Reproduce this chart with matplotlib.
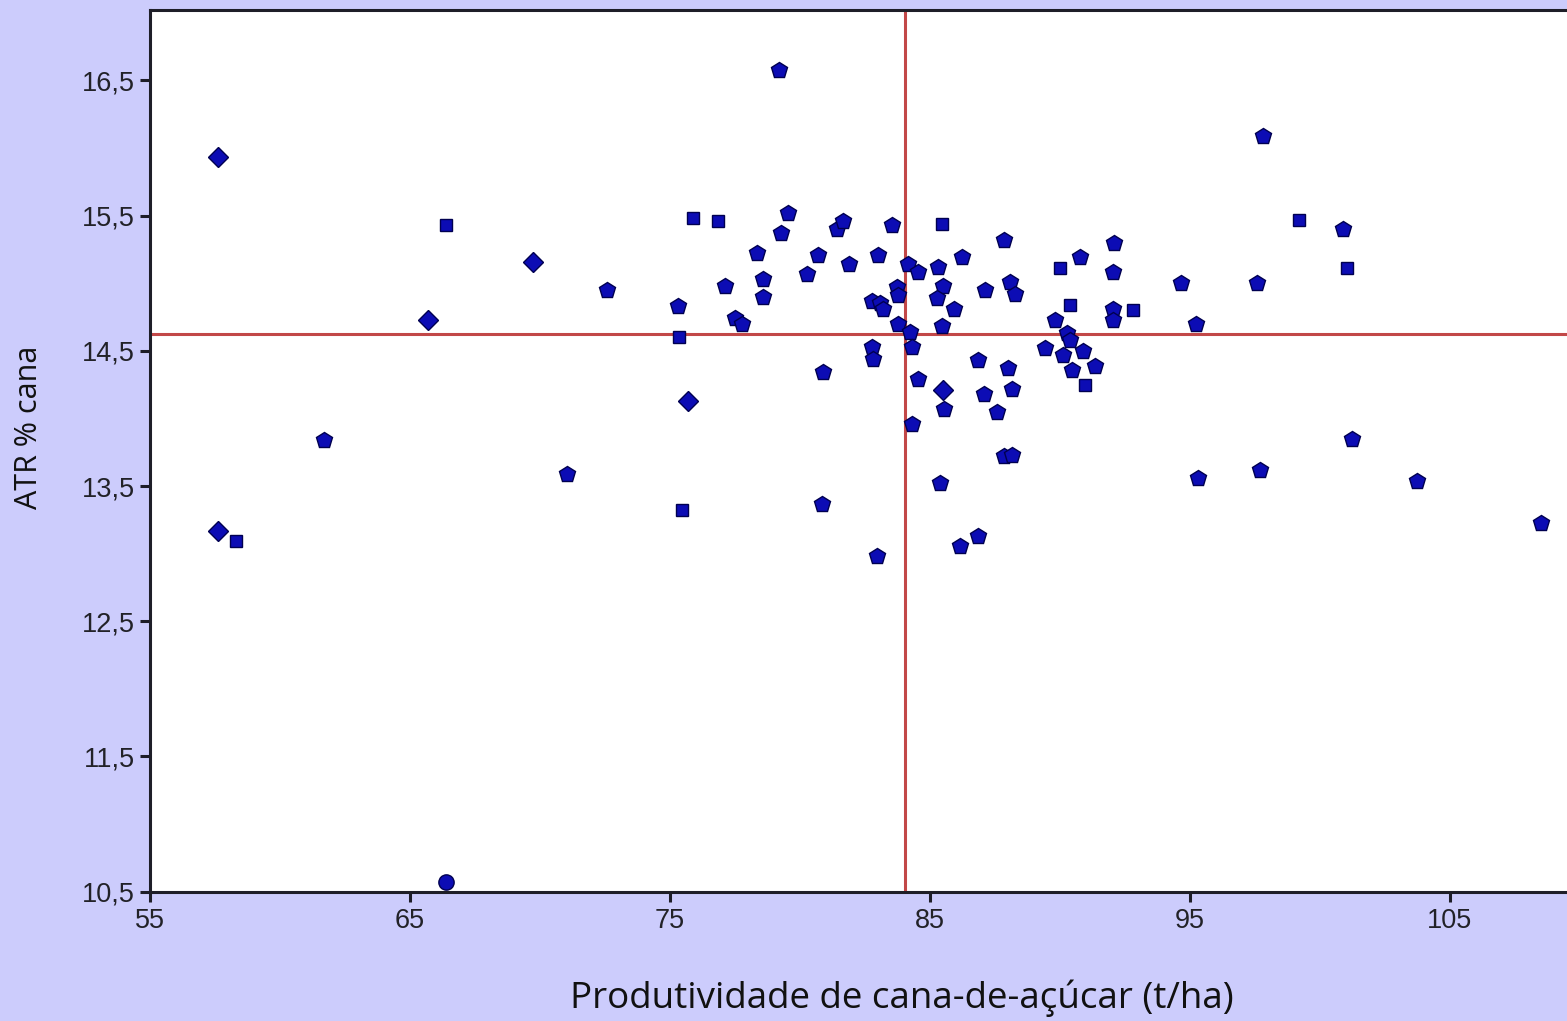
import matplotlib
matplotlib.use("Agg")
import matplotlib.pyplot as plt
from matplotlib.ticker import FixedLocator, FuncFormatter

# ---- data ----
produtividade = [
    57.63, 66.38, 69.74, 65.70, 61.69, 71.03, 57.63, 58.31, 66.38, 72.57,
    75.90, 76.86, 79.55, 79.26, 81.41, 81.67, 83.53, 85.45, 78.36, 80.70,
    81.90, 83.01, 84.17, 84.55, 85.32, 86.22, 80.26, 77.12, 78.59, 78.59,
    75.32, 77.50, 77.76, 83.72, 83.78, 82.76, 83.08, 83.20, 85.51, 85.26,
    85.92, 83.78, 84.23, 84.30, 85.45, 75.36, 82.76, 82.82, 80.90, 84.55,
    85.51, 85.54, 75.70, 84.30,
    99.20, 100.87, 101.05, 87.86, 92.09, 90.77, 90.00, 92.05, 94.65, 97.57,
    87.12, 88.08, 88.27, 90.38, 92.03, 92.03, 92.82, 89.81, 95.23, 90.26,
    90.38, 89.42, 86.86, 90.13, 90.45, 90.90, 91.35, 88.01, 88.14, 87.08,
    90.96, 87.57, 87.85, 88.15, 101.22,
    75.45, 80.83, 82.97, 85.38, 86.15, 86.86,
    97.82, 95.32, 97.69, 103.72, 108.49, 79.19,
]
atr = [
    15.93, 15.43, 15.16, 14.73, 13.84, 13.59, 13.17, 13.09, 10.57, 14.95,
    15.48, 15.46, 15.52, 15.37, 15.40, 15.46, 15.43, 15.44, 15.22, 15.21,
    15.14, 15.21, 15.14, 15.08, 15.12, 15.19, 15.07, 14.98, 15.03, 14.90,
    14.83, 14.74, 14.70, 14.97, 14.91, 14.87, 14.85, 14.81, 14.98, 14.89,
    14.81, 14.70, 14.64, 14.53, 14.68, 14.60, 14.53, 14.44, 14.34, 14.29,
    14.21, 14.07, 14.13, 13.96,
    15.47, 15.40, 15.11, 15.32, 15.30, 15.19, 15.11, 15.08, 15.00, 15.00,
    14.95, 15.01, 14.92, 14.84, 14.81, 14.73, 14.80, 14.73, 14.70, 14.63,
    14.58, 14.52, 14.43, 14.47, 14.36, 14.50, 14.39, 14.37, 14.22, 14.18,
    14.245, 14.05, 13.72, 13.73, 13.85,
    13.32, 13.37, 12.98, 13.52, 13.06, 13.13,
    16.09, 13.56, 13.62, 13.54, 13.23, 16.58,
]
# symbol group of each point (D = diamond, S = square, C = circle, P = other)
grupo = [
    "D", "S", "D", "D", "P", "P", "D", "S", "C", "P",
    "S", "S", "P", "P", "P", "P", "P", "S", "P", "P",
    "P", "P", "P", "P", "P", "P", "P", "P", "P", "P",
    "P", "P", "P", "P", "P", "P", "P", "P", "P", "P",
    "P", "P", "P", "P", "P", "S", "P", "P", "P", "P",
    "D", "P", "D", "P",
    "S", "P", "S", "P", "P", "P", "S", "P", "P", "P",
    "P", "P", "P", "S", "P", "P", "S", "P", "P", "P",
    "P", "P", "P", "P", "P", "P", "P", "P", "P", "P",
    "S", "P", "P", "P", "P",
    "S", "P", "P", "P", "P", "P",
    "P", "P", "P", "P", "P", "P",
]
media_produtividade = 84.04
media_atr = 14.626
x_ticks = [55, 65, 75, 85, 95, 105]
y_ticks = [10.5, 11.5, 12.5, 13.5, 14.5, 15.5, 16.5]
x_label = "Produtividade de cana-de-açúcar (t/ha)"
y_label = "ATR % cana"

# ---- figure ----
W, H = 1567, 1021
fig = plt.figure(figsize=(W / 100, H / 100), dpi=100)
bg = "#CCCCFC"
fig.patch.set_facecolor(bg)

left, right, bottom, top = 150, 1567, 891.7, 10
ax = fig.add_axes([left / W, (H - bottom) / H, (right - left) / W, (bottom - top) / H])
ax.set_facecolor("white")
ax.set_xlim(55, 109.5)
ax.set_ylim(10.5, 17.02)

marker_map = {"D": ("D", 10), "S": ("s", 9), "C": ("o", 11), "P": ("p", 12)}
for g, (mk, ms) in marker_map.items():
    xs = [x for x, gg in zip(produtividade, grupo) if gg == g]
    ys = [y for y, gg in zip(atr, grupo) if gg == g]
    ax.plot(xs, ys, linestyle="none", marker=mk, markersize=ms,
            markerfacecolor="#0C0CB4", markeredgecolor="#000050",
            markeredgewidth=1.0, zorder=3, clip_on=False)

ax.axvline(media_produtividade, color="#C24848", lw=2.2, zorder=2)
ax.axhline(media_atr, color="#C24848", lw=2.2, zorder=2)

for s in ["left", "bottom", "top"]:
    ax.spines[s].set_color("#1E1E28")
    ax.spines[s].set_linewidth(2.2)
ax.spines["right"].set_visible(False)

ax.xaxis.set_major_locator(FixedLocator(x_ticks))
ax.yaxis.set_major_locator(FixedLocator(y_ticks))
ax.xaxis.set_major_formatter(FuncFormatter(lambda v, p: f"{v:g}"))
ax.yaxis.set_major_formatter(FuncFormatter(lambda v, p: f"{v:.1f}".replace(".", ",")))
ax.tick_params(axis="both", direction="out", length=7, width=2.2, color="#1E1E28",
               labelsize=19.5, labelcolor="#222228")
ax.tick_params(axis="x", pad=5)
ax.tick_params(axis="y", pad=4)
for lab in ax.get_xticklabels() + ax.get_yticklabels():
    lab.set_fontfamily("Liberation Sans")

fig.text(29 / W, 1 - 427 / H, y_label, rotation=90, ha="center", va="center",
         fontsize=22, family="Open Sans", color="#111111")
fig.text(902 / W, 1 - 998 / H, x_label, ha="center", va="center",
         fontsize=26.5, family="Open Sans", color="#111111")

fig.savefig("out.png", dpi=100, facecolor=bg)
